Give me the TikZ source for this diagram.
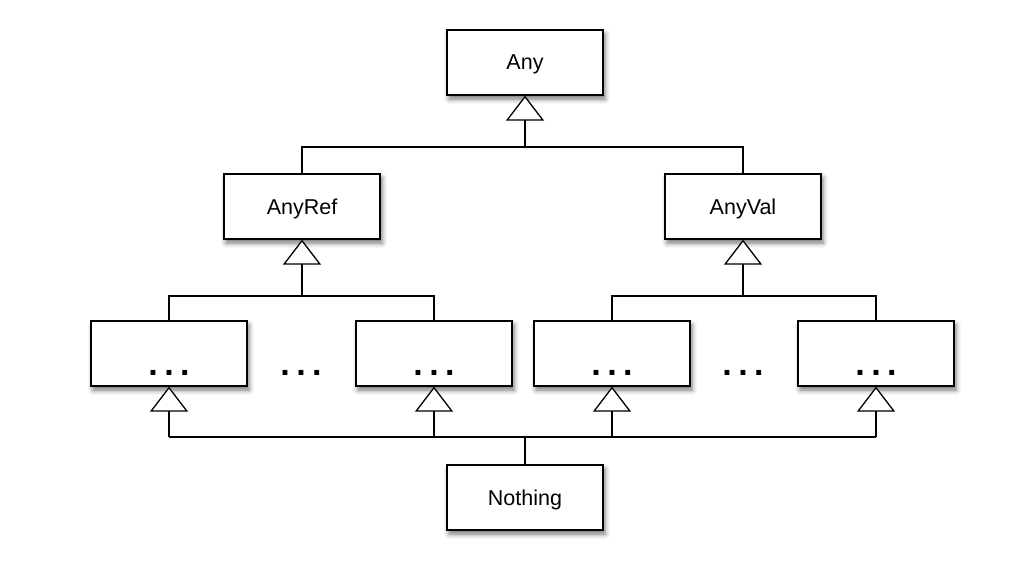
\documentclass[tikz,border=0pt]{standalone}
\usepackage{fontspec}
\setmainfont{Liberation Sans}
\usetikzlibrary{arrows.meta,shadows.blur}
\newcommand{\threedots}{.\kern6.5pt.\kern6.5pt.}
\begin{document}
\begin{tikzpicture}[x=1pt,y=-1pt,
  box/.style={draw=black,line width=1.3pt,fill=white,minimum width=156pt,minimum height=65pt,inner sep=0pt,
    text depth=0pt,font=\fontsize{21.5}{24}\selectfont,
    blur shadow={shadow xshift=2pt,shadow yshift=-4pt,shadow blur radius=5pt,shadow opacity=55}},
  dots/.style={inner sep=0pt,anchor=base,font=\fontsize{34}{34}\bfseries\selectfont},
  link/.style={line width=1.3pt},
  tri/.style={line width=1.3pt,-{Triangle[open,width=38pt,length=25pt,fill=white]}}]
\useasboundingbox (0,0) rectangle (1022,574);
\node[box] (any) at (525,62.5) {Any};
\node[box] (anyref) at (302,206.5) {AnyRef};
\node[box] (anyval) at (743,206.5) {AnyVal};
\node[box] (b1) at (169,353.5) {};
\node[box] (b2) at (434,353.5) {};
\node[box] (b3) at (612,353.5) {};
\node[box] (b4) at (876,353.5) {};
\node[box] (nothing) at (525,497.5) {Nothing};
\node[dots] (d1) at (169,375) {\threedots};
\node[dots] (d2) at (434,375) {\threedots};
\node[dots] (d3) at (612,375) {\threedots};
\node[dots] (d4) at (876,375) {\threedots};
\node[dots] (m1) at (301,375) {\threedots};
\node[dots] (m2) at (743,375) {\threedots};
\coordinate (j1) at (525,147);
\coordinate (j2) at (302,296);
\coordinate (j3) at (743,296);
\coordinate (j4) at (525,437);
% top level
\draw[link] (anyref.north) |- (j1) -| (anyval.north);
\draw[tri] (j1) -- (any.south);
% AnyRef children
\draw[link] (b1.north) |- (j2) -| (b2.north);
\draw[tri] (j2) -- (anyref.south);
% AnyVal children
\draw[link] (b3.north) |- (j3) -| (b4.north);
\draw[tri] (j3) -- (anyval.south);
% Nothing
\draw[link] (b1.south |- j4) -- (b4.south |- j4);
\draw[link] (nothing.north) -- (j4);
\draw[tri] (b1.south |- j4) -- (b1.south);
\draw[tri] (b2.south |- j4) -- (b2.south);
\draw[tri] (b3.south |- j4) -- (b3.south);
\draw[tri] (b4.south |- j4) -- (b4.south);
\end{tikzpicture}
\end{document}
